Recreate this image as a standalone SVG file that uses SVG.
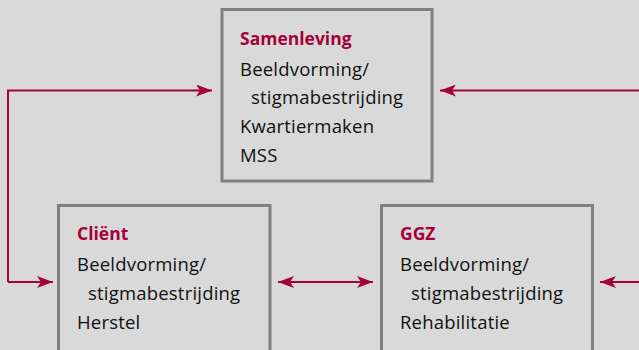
<svg xmlns="http://www.w3.org/2000/svg" width="639" height="350" viewBox="0 0 639 350">
<style>
.box{fill:#d9d9d9;stroke:#808080;stroke-width:3}
.t{font-family:"Open Sans","Liberation Sans",sans-serif;font-size:18.5px;letter-spacing:0.2px;fill:#111}
.h{font-family:"Open Sans","Liberation Sans",sans-serif;font-size:17.5px;font-weight:bold;fill:#a5003a}
.c{fill:none;stroke:#a5003a;stroke-width:2}
</style>
<defs>
<marker id="ah" viewBox="0 0 16 12" refX="16" refY="6" markerWidth="16" markerHeight="12" markerUnits="userSpaceOnUse" orient="auto-start-reverse">
<path d="M0,0 L16,6 L0,12 L4,6 Z" fill="#a5003a"/>
</marker>
</defs>
<rect width="639" height="350" fill="#d9d9d9"/>
<g id="samenleving">
<rect class="box" x="222" y="9.5" width="210" height="171.5"/>
<text class="h" x="240" y="45">Samenleving</text>
<text class="t" x="240" y="76">Beeldvorming/</text>
<text class="t" x="251" y="104">stigmabestrijding</text>
<text class="t" x="240" y="133">Kwartiermaken</text>
<text class="t" x="240" y="162">MSS</text>
</g>
<g id="client">
<rect class="box" x="58.5" y="205.5" width="211.5" height="160"/>
<text class="h" x="77" y="240">Cliënt</text>
<text class="t" x="77" y="271">Beeldvorming/</text>
<text class="t" x="88" y="300">stigmabestrijding</text>
<text class="t" x="77" y="329">Herstel</text>
</g>
<g id="ggz">
<rect class="box" x="381.5" y="205.5" width="211" height="160"/>
<text class="h" x="400" y="240">GGZ</text>
<text class="t" x="400" y="271">Beeldvorming/</text>
<text class="t" x="411" y="300">stigmabestrijding</text>
<text class="t" x="400" y="329">Rehabilitatie</text>
</g>
<g id="connectors">
<path class="c" d="M8,282 L8,90.5 L212,90.5" marker-end="url(#ah)"/>
<path class="c" d="M8,282 L53,282" marker-end="url(#ah)"/>
<path class="c" d="M639,90.5 L440,90.5" marker-end="url(#ah)"/>
<path class="c" d="M639,282 L600,282" marker-end="url(#ah)"/>
<path class="c" d="M278,282 L373,282" marker-start="url(#ah)" marker-end="url(#ah)"/>
</g>
</svg>
